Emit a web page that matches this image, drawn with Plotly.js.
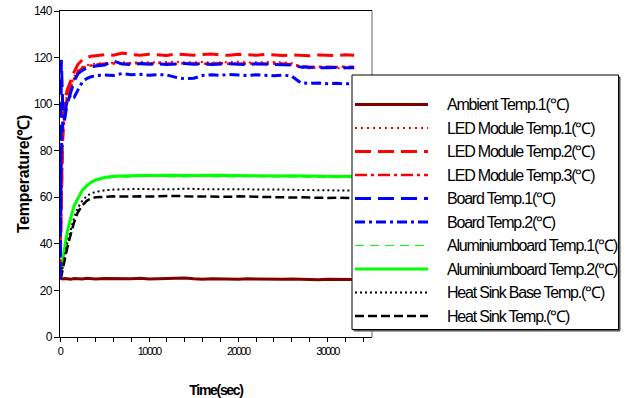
<!DOCTYPE html>
<html>
<head>
<meta charset="utf-8">
<script src="https://cdn.plot.ly/plotly-3.0.1.min.js"></script>
<style>
html,body{margin:0;padding:0;background:#fff;}
#chart{width:625px;height:398px;}
.annotation-text{letter-spacing:-1.2px;}
.xtick text{letter-spacing:-1.6px;}
.ytick text{letter-spacing:-0.8px;}
.xtitle{letter-spacing:-1.3px;}
.ytitle{letter-spacing:-0.3px;}
</style>
</head>
<body>
<div id="chart"></div>
<script>
// ---- data ----
const timeSec = [0,150,300,500,800,1200,1600,2000,2500,3000,3500,4000,5000,6000,7000,8000,9000,10000,11000,12000,13000,14000,15000,16000,17000,18000,19000,20000,21000,22000,23000,24000,25000,26000,27000,28000,29000,30000,31000,32000,33000];
const ambient1 = [25.0,25.2,24.9,25.1,25.0,24.8,25.1,25.0,24.9,25.2,25.0,24.9,25.1,25.0,24.8,25.0,25.2,24.9,25.0,25.1,24.9,25.3,25.0,24.8,25.0,24.9,25.1,24.8,25.0,24.9,24.7,24.9,24.8,24.9,24.7,24.8,24.6,24.8,24.7,24.6,24.7];
const ledModule1 = [25,55,86,99,104,108,112,114.5,116,116.8,117.2,117.4,117.6,117.8,118.0,117.7,118.1,117.9,118.0,117.8,118.2,117.9,118.0,118.1,117.8,118.0,117.9,118.2,117.9,118.0,117.8,118.1,117.9,117.6,115.6,115.4,115.7,115.5,115.6,115.4,115.5];
const ledModule2 = [25,60,90,101,106,110,114,117,119,120,120.6,120.8,121.2,121.0,121.9,121.3,121.0,121.4,121.1,120.9,121.6,121.2,121.0,121.3,121.5,121.1,121.0,121.4,121.2,121.0,121.3,121.1,120.9,121.2,121.0,120.8,121.1,121.0,120.9,121.2,121.0];
const ledModule3 = [25,50,82,96,103,107,111,114,115.5,116.3,116.8,117.0,117.3,117.5,117.2,117.6,117.4,117.3,117.7,117.5,117.2,117.6,117.4,117.3,117.5,117.6,117.3,117.4,117.5,117.2,117.4,117.3,117.5,117.0,116.3,116.0,116.2,116.1,116.0,116.2,116.1];
const board1 = [25,119,100,93,100,105,110,113,114.5,115.5,116,116.4,116.8,118.5,117.2,117.0,117.4,117.1,117.3,117.0,117.2,117.5,117.1,117.3,117.0,117.2,117.4,117.1,117.0,117.3,117.1,117.2,117.0,116.8,115.9,115.7,115.8,115.6,115.7,115.8,115.6];
const board2 = [25,80,92,96,101,104,103,106,109.5,111,111.8,112.2,112.5,112.3,113.2,112.6,112.8,112.4,112.7,112.5,111.5,110.9,111.1,112.3,112.6,112.4,112.7,112.5,112.3,112.6,112.4,112.2,112.5,112.0,109.2,108.9,109.1,108.8,109.0,108.7,108.9];
const aluminium1 = [25,27.5,32.5,37.5,44.5,50.5,56,59,62.5,64.5,66,67,68,68.5,68.7,68.8,68.8,68.9,68.8,68.9,68.8,68.7,68.9,68.8,68.9,68.8,68.7,68.8,68.9,68.8,68.7,68.8,68.6,68.7,68.6,68.5,68.6,68.5,68.4,68.5,68.4];
const aluminium2 = [25,28,33,38,45,51,56.5,59.5,63,65,66.5,67.5,68.5,69.0,69.2,69.3,69.4,69.4,69.5,69.4,69.5,69.4,69.5,69.6,69.4,69.5,69.4,69.3,69.4,69.2,69.3,69.2,69.1,69.2,69.1,69.0,69.1,69.0,68.9,69.0,68.9];
const heatSinkBase = [25,26.5,30,34,40,46,51.5,55.5,58.5,60.5,61.7,62.3,63.0,63.3,63.5,63.4,63.6,63.5,63.4,63.6,63.5,63.7,63.5,63.6,63.4,63.5,63.6,63.4,63.5,63.3,63.4,63.2,63.3,63.2,63.1,63.2,63.0,63.1,63.0,62.9,63.0];
const heatSink = [25,26,29,33,38,44,49.5,53.5,56.5,58.5,59.5,60.0,60.3,60.4,60.3,60.5,60.4,60.3,60.5,60.4,60.6,60.4,60.3,60.5,60.4,60.3,60.2,60.4,60.3,60.1,60.2,60.0,60.1,59.9,60.0,59.8,59.9,59.7,59.8,59.7,59.6];
const seriesNames = ["Ambient Temp.1(℃)","LED Module Temp.1(℃)","LED Module Temp.2(℃)","LED Module Temp.3(℃)","Board Temp.1(℃)","Board Temp.2(℃)","Aluminiumboard Temp.1(℃)","Aluminiumboard Temp.2(℃)","Heat Sink Base Temp.(℃)","Heat Sink Temp.(℃)"];
const seriesValues = [ambient1, ledModule1, ledModule2, ledModule3, board1, board2, aluminium1, aluminium2, heatSinkBase, heatSink];
const yTickVals = [0,20,40,60,80,100,120,140];
const xTickVals = [0,10000,20000,30000];

// ---- styles ----
const styles = [
  {color:"#800000", width:3, dash:"solid"},
  {color:"#ff0000", width:2, dash:"2px,4px"},
  {color:"#ff0000", width:3, dash:"16px,7px"},
  {color:"#ff0000", width:2.5, dash:"12px,4px,3px,4px"},
  {color:"#0000ff", width:3, dash:"16px,7px"},
  {color:"#0000ff", width:3, dash:"10px,4px,3px,4px"},
  {color:"#00ff00", width:1, dash:"9px,6px"},
  {color:"#00ff00", width:3, dash:"solid"},
  {color:"#000000", width:2, dash:"2px,3px"},
  {color:"#000000", width:2.5, dash:"9px,4px"}
];
const FONT = "Liberation Sans, Arial, sans-serif";

const order = [6,7,8,9,0,1,2,3,4,5];
const traces = order.map(i => ({
  type:"scatter", mode:"lines", x:timeSec, y:seriesValues[i], name:seriesNames[i],
  line:{color:styles[i].color, width:styles[i].width, dash:styles[i].dash},
  showlegend:false, hoverinfo:"skip"
}));

const L=60, R=372, T=11, B=337;
const px = v => (v-L)/(R-L);
const py = v => (B-v)/(B-T);

const shapes = [
  {type:"line", xref:"paper", yref:"paper", x0:1, x1:1, y0:0, y1:1, line:{color:"#999999", width:1.5}, layer:"above"},
  {type:"rect", xref:"paper", yref:"paper", x0:px(354), x1:px(620), y0:py(331), y1:py(77), line:{color:"#555555", width:1}, fillcolor:"#555555", layer:"above"},
  {type:"rect", xref:"paper", yref:"paper", x0:px(352), x1:px(618.5), y0:py(329.5), y1:py(75), line:{color:"#000000", width:1}, fillcolor:"#ffffff", layer:"above"}
];
const annotations = [];
const rowY0 = 104.5, rowStep = 23.5;
seriesNames.forEach((n,i) => {
  const y = rowY0 + i*rowStep;
  shapes.push({type:"line", xref:"paper", yref:"paper", x0:px(355), x1:px(428), y0:py(y), y1:py(y),
    line:{color:styles[i].color, width:styles[i].width, dash:styles[i].dash}, layer:"above"});
  annotations.push({xref:"paper", yref:"paper", x:px(445), y:py(y), xanchor:"left", yanchor:"middle", align:"left",
    text:n, showarrow:false, font:{family:FONT, size:16, color:"#000"}});
});

const layout = {
  width:625, height:398,
  margin:{l:L, r:625-R, t:T, b:398-B, pad:0},
  paper_bgcolor:"#fff", plot_bgcolor:"#fff",
  font:{family:FONT, color:"#000"},
  xaxis:{range:[0,35000], showgrid:false, zeroline:false, showline:true, linecolor:"#000", linewidth:1, mirror:true,
    ticks:"outside", ticklen:4, tickcolor:"#000", tickvals:xTickVals, ticktext:xTickVals.map(String),
    tickfont:{family:FONT, size:11}, minor:{dtick:2000, tick0:0, ticks:"outside", ticklen:4, tickcolor:"#000"},
    title:{text:"<b>Time(sec)</b>", font:{family:FONT, size:14}, standoff:28}, automargin:false},
  yaxis:{range:[0,140], showgrid:false, zeroline:false, showline:true, linecolor:"#000", linewidth:1,
    ticks:"outside", ticklen:5, tickcolor:"#000", tickvals:yTickVals, ticktext:yTickVals.map(String),
    tickfont:{family:FONT, size:12}, title:{text:"<b>Temperature(℃)</b>", font:{family:FONT, size:16}, standoff:0}, automargin:false},
  shapes:shapes, annotations:annotations, showlegend:false
};
Plotly.newPlot("chart", traces, layout, {staticPlot:true, displayModeBar:false});
</script>
</body>
</html>
